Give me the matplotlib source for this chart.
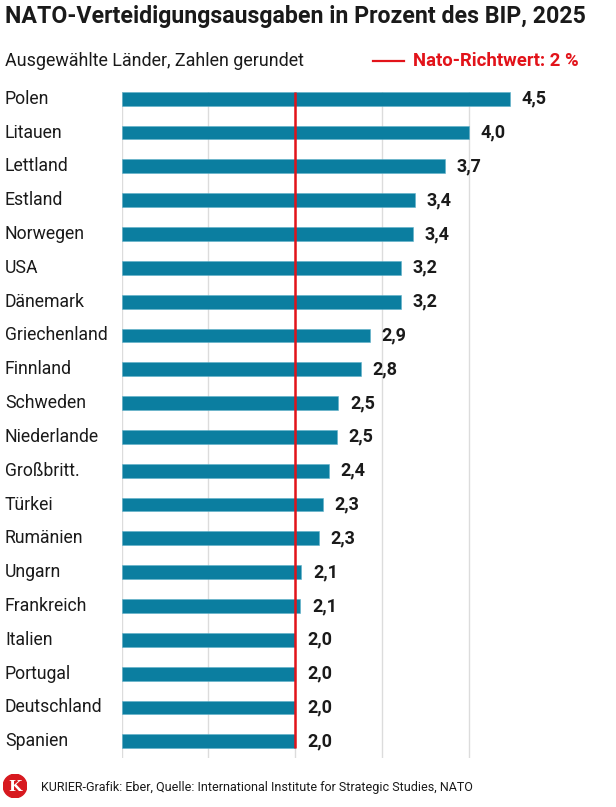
import matplotlib
matplotlib.use("Agg")
import matplotlib.pyplot as plt
from matplotlib.patches import Circle

countries = ["Polen", "Litauen", "Lettland", "Estland", "Norwegen", "USA", "Dänemark",
             "Griechenland", "Finnland", "Schweden", "Niederlande", "Großbritt.", "Türkei",
             "Rumänien", "Ungarn", "Frankreich", "Italien", "Portugal", "Deutschland", "Spanien"]
values = [4.48, 4.00, 3.73, 3.38, 3.36, 3.22, 3.22, 2.86, 2.76, 2.50, 2.48, 2.39, 2.32,
          2.27, 2.07, 2.06, 2.00, 2.00, 2.00, 2.00]
value_labels = ["4,5", "4,0", "3,7", "3,4", "3,4", "3,2", "3,2", "2,9", "2,8", "2,5", "2,5",
                "2,4", "2,3", "2,3", "2,1", "2,1", "2,0", "2,0", "2,0", "2,0"]
nato_target = 2.0
grid_ticks = [0, 1, 2, 3, 4]

title = "NATO-Verteidigungsausgaben in Prozent des BIP, 2025"
subtitle = "Ausgewählte Länder, Zahlen gerundet"
legend_label = "Nato-Richtwert: 2 %"
source = "KURIER-Grafik: Eber, Quelle: International Institute for Strategic Studies, NATO"

plt.rcParams['font.family'] = ["Roboto", "DejaVu Sans"]

BAR = "#0b7ea0"
RED = "#e2131a"
TXT = "#1a1a1a"
GRID = "#dcdcdc"

W, H = 616, 807
fig = plt.figure(figsize=(W / 100, H / 100), dpi=100)
fig.patch.set_facecolor("white")

unit = 86.7
x0 = 121.7
xmax = 5.5
n = len(countries)
bh = 0.41
spacing = 33.82
top_px = 98.7 - bh / 2 * spacing
bottom_val = 19.5
ax_h = (bottom_val + bh / 2) * spacing
ax = fig.add_axes([x0 / W, (H - top_px - ax_h) / H, xmax * unit / W, ax_h / H])
ax.set_xlim(0, xmax)
ax.set_ylim(bottom_val, -bh / 2)
ax.axis("off")

ypos = list(range(n))
for g in grid_ticks:
    ax.plot([g, g], [-bh / 2, bottom_val], color=GRID, lw=1.0, zorder=0)
ax.barh(ypos, values, height=bh, color=BAR, edgecolor="#5fb0c9", linewidth=0.4, zorder=2)
ax.plot([nato_target, nato_target], [-bh / 2, n - 1 + bh / 2], color=RED, lw=1.8, zorder=3,
        solid_capstyle="butt")

for y, v, lab in zip(ypos, values, value_labels):
    ax.annotate(lab, (v, y), xytext=(8.5, 0), textcoords="offset points", ha="left",
                va="center", fontsize=13, fontweight="bold", color=TXT)

for y, c in zip(ypos, countries):
    fig.text(5 / W, 1 - (98.7 + y * spacing) / H, c, ha="left", va="center",
             fontsize=12.7, color=TXT)

fig.text(5 / W, 1 - 17 / H, title, ha="left", va="center", fontsize=16.7,
         fontweight="bold", color=TXT)
fig.text(5 / W, 1 - 61 / H, subtitle, ha="left", va="center", fontsize=12.9, color=TXT)
fig.add_artist(plt.Line2D([373 / W, 404 / W], [1 - 61 / H, 1 - 61 / H], color=RED, lw=1.6))
fig.text(413 / W, 1 - 61 / H, legend_label, ha="left", va="center", fontsize=13.3,
         fontweight="bold", color=RED)

lax = fig.add_axes([3 / W, (H - 786 - 12) / H, 24 / W, 24 / H])
lax.set_xlim(-1, 1)
lax.set_ylim(-1, 1)
lax.axis("off")
lax.add_patch(Circle((0, 0), 0.98, color="#d7191f"))
lax.text(0, -0.05, "K", ha="center", va="center", color="white", fontsize=11,
         family=["DejaVu Serif"], fontweight="bold")
fig.text(41 / W, 1 - 787 / H, source, ha="left", va="center", fontsize=9, color=TXT)

fig.savefig("out.png", dpi=100, facecolor="white")
